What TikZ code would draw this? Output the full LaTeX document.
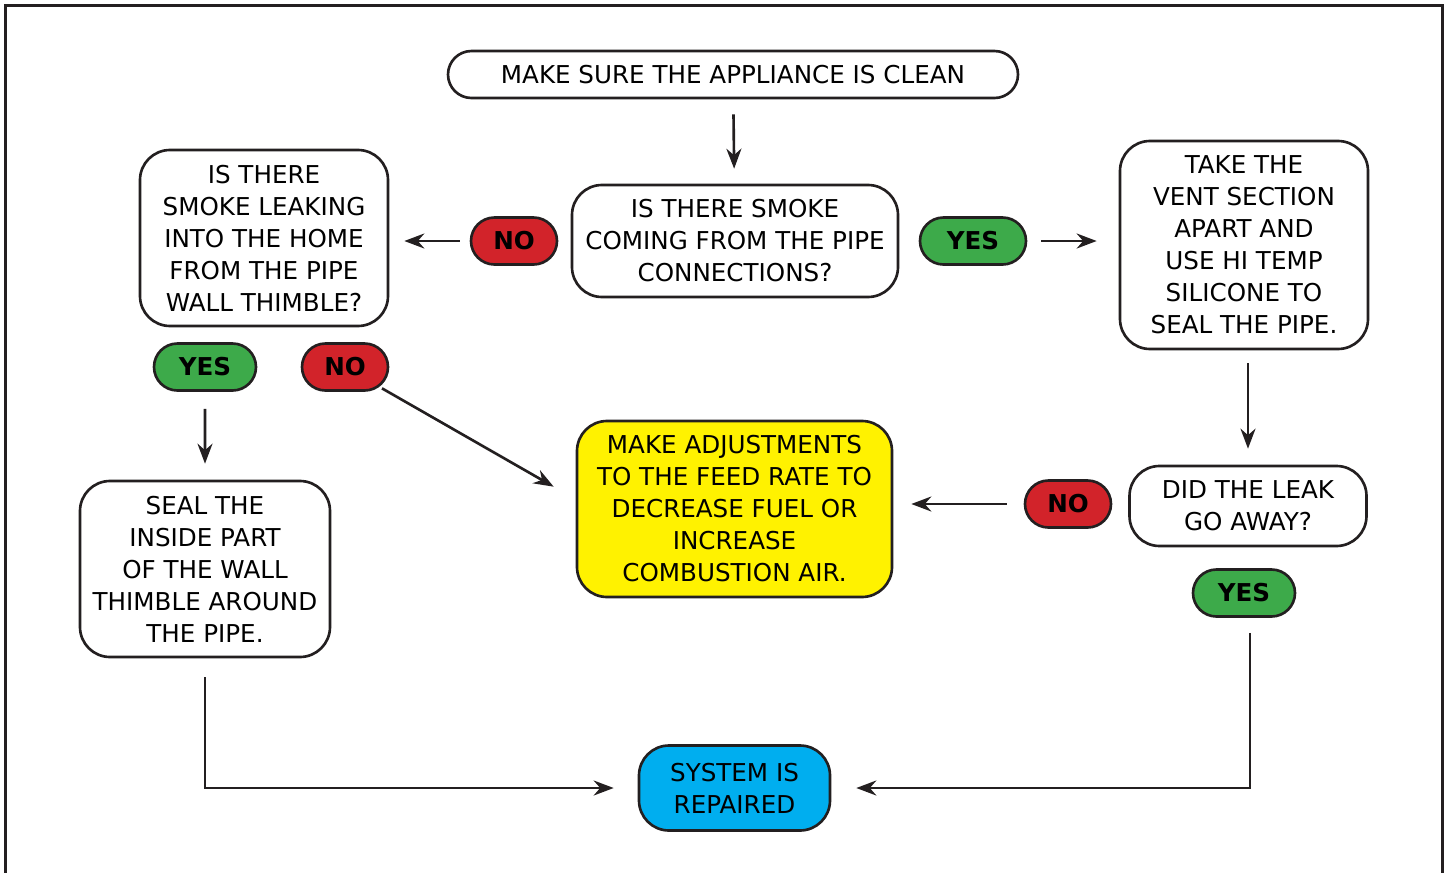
\documentclass[tikz,border=0pt]{standalone}
\usepackage{fontspec}
\setmainfont{DejaVu Sans}
\usetikzlibrary{arrows.meta,shapes.misc,calc}

\definecolor{ink}{HTML}{231F20}
\definecolor{nored}{HTML}{D2232A}
\definecolor{yesgreen}{HTML}{3DAA4A}
\definecolor{adjyellow}{HTML}{FFF200}
\definecolor{donecyan}{HTML}{00AEEF}

\tikzset{
  stepbox/.style={draw=ink, line width=1.5pt, rounded corners=0.6cm, align=center,
    inner sep=0pt, font=\fontsize{14}{18.2}\selectfont},
  pill/.style={rounded rectangle, draw=ink, line width=1.5pt, inner sep=0pt,
    minimum height=0.94cm, font=\bfseries\fontsize{14}{17}\selectfont},
  flow/.style={-{Stealth[length=0.4cm,width=0.3cm]}, line width=1.5pt, ink},
}

\begin{document}
\begin{tikzpicture}

  \useasboundingbox (0,0) rectangle (29,-17.46);
  \draw[line width=1.7pt, ink] (0.11,-0.11) rectangle (28.84,-18);

  % question boxes
  \node[pill, font=\fontsize{14}{17}\selectfont, minimum width=11.4cm] (clean) at (14.66,-1.49) {MAKE SURE THE APPLIANCE IS CLEAN};
  \node[stepbox, minimum width=6.52cm, minimum height=2.24cm] (pipe) at (14.7,-4.82) {IS THERE SMOKE\\COMING FROM THE PIPE\\CONNECTIONS?};
  \node[stepbox, minimum width=4.96cm, minimum height=3.52cm] (leak) at (5.28,-4.76) {IS THERE\\SMOKE  LEAKING\\INTO THE HOME\\FROM THE PIPE\\WALL THIMBLE?};
  \node[stepbox, minimum width=4.96cm, minimum height=4.16cm] (vent) at (24.88,-4.9) {TAKE THE\\VENT SECTION\\APART AND\\USE HI TEMP\\SILICONE TO\\SEAL THE PIPE.};
  \node[stepbox, minimum width=4.74cm, minimum height=1.6cm] (gone) at (24.96,-10.12) {DID THE LEAK\\GO AWAY?};
  \node[stepbox, fill=adjyellow, minimum width=6.3cm, minimum height=3.52cm] (adjust) at (14.69,-10.18) {MAKE ADJUSTMENTS\\TO THE FEED RATE TO\\DECREASE FUEL OR\\INCREASE\\COMBUSTION AIR.};
  \node[stepbox, minimum width=5cm, minimum height=3.52cm] (seal) at (4.1,-11.38) {SEAL THE\\INSIDE PART\\OF THE WALL\\THIMBLE AROUND\\THE PIPE.};
  \node[stepbox, fill=donecyan, minimum width=3.82cm, minimum height=1.7cm] (done) at (14.69,-15.76) {SYSTEM IS\\REPAIRED};

  % answers
  \node[pill, fill=nored, minimum width=1.72cm] (noA) at (10.28,-4.82) {NO};
  \node[pill, fill=yesgreen, minimum width=2.12cm] (yesA) at (19.46,-4.82) {YES};
  \node[pill, fill=yesgreen, minimum width=2.04cm] (yesB) at (4.1,-7.34) {YES};
  \node[pill, fill=nored, minimum width=1.72cm] (noB) at (6.9,-7.34) {NO};
  \node[pill, fill=nored, minimum width=1.72cm] (noC) at (21.36,-10.08) {NO};
  \node[pill, fill=yesgreen, minimum width=2.04cm] (yesC) at (24.88,-11.86) {YES};

  \coordinate (tip) at ($(adjust.north west)+(-0.44,-1.34)$);

  \draw[flow, shorten <=0.3cm, shorten >=0.3cm] (clean) -- (pipe);
  \draw[flow, shorten <=0.2cm, shorten >=0.3cm] (noA.west) -- (noA.west -| leak.east);
  \draw[flow, shorten <=0.28cm, shorten >=0.44cm] (yesA.east) -- (yesA.east -| vent.west);
  \draw[flow, shorten <=0.26cm, shorten >=0.32cm] (vent.south -| gone.north) -- (gone.north);
  \draw[flow, shorten <=0.34cm, shorten >=0.36cm] (noC.west) -- (noC.west -| adjust.east);
  \draw[flow, shorten <=0.34cm, shorten >=0.32cm] (yesB) -- (seal);
  \draw[flow, shorten <=0.06cm] (noB.-30) -- (tip);
  \draw[flow, shorten <=0.38cm, shorten >=0.48cm] (seal.south) |- (done.west);
  \draw[flow, shorten <=0.3cm, shorten >=0.5cm] ($(yesC.south)+(0.12,0)$) |- (done.east);

\end{tikzpicture}
\end{document}
